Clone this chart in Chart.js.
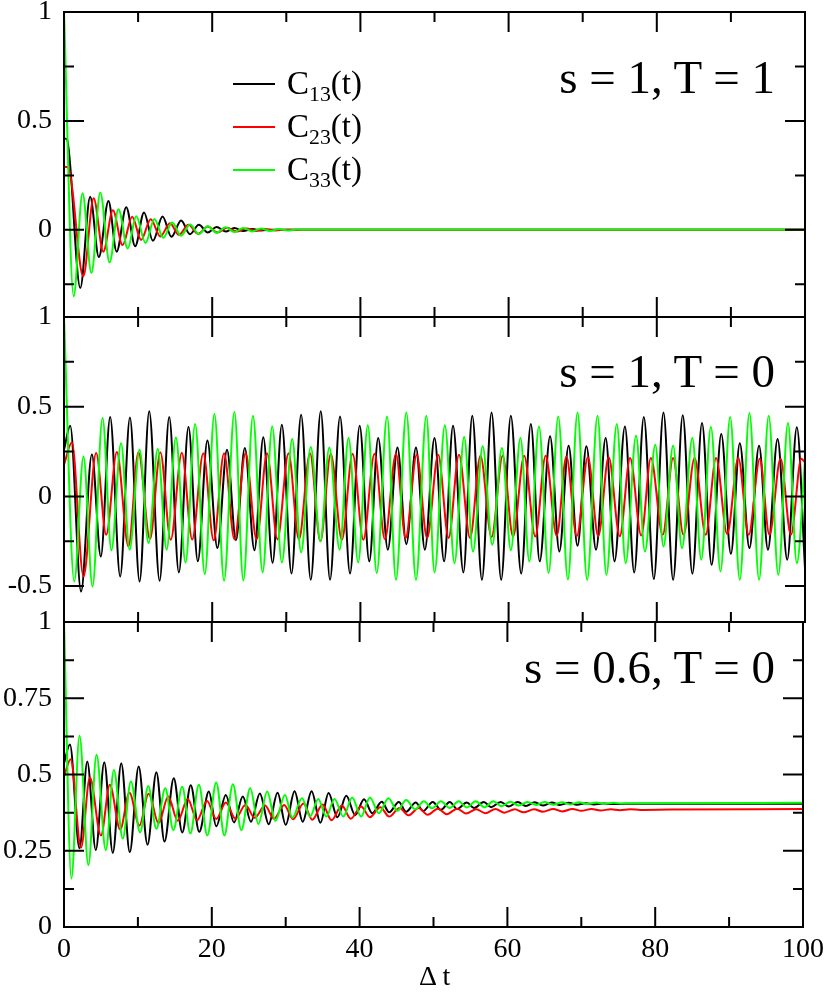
<!DOCTYPE html>
<html><head><meta charset="utf-8">
<script src="https://cdn.jsdelivr.net/npm/chart.js@4.4.1/dist/chart.umd.min.js"></script>
<style>
html,body{margin:0;padding:0;background:#fff;}
#wrap{position:relative;width:830px;height:993px;overflow:hidden;font-family:'Liberation Serif','Times New Roman',serif;color:#000;background:#fff;}
.pc{position:absolute;left:0;}
.ann{position:absolute;font-size:47px;line-height:1;white-space:nowrap;right:55px;}
.leg{position:absolute;left:287px;font-size:33px;line-height:1;white-space:nowrap;}
.leg sub{font-size:0.66em;vertical-align:-0.3em;line-height:0;}
.lline{position:absolute;height:2px;width:42px;left:233px;}
.xt{position:absolute;font-size:28px;line-height:1;white-space:nowrap;}
</style></head>
<body><div id="wrap">
<canvas id="c1" class="pc" style="top:-18px" width="830" height="365"></canvas>
<canvas id="c2" class="pc" style="top:287px" width="830" height="365"></canvas>
<canvas id="c3" class="pc" style="top:592px" width="830" height="401"></canvas>
<div class="lline" style="top:83px;background:#000"></div>
<div class="lline" style="top:126px;background:#ff0000"></div>
<div class="lline" style="top:169px;background:#00ff00"></div>
<div class="leg" style="top:67px">C<sub>13</sub>(t)</div>
<div class="leg" style="top:110px">C<sub>23</sub>(t)</div>
<div class="leg" style="top:153px">C<sub>33</sub>(t)</div>
<div class="ann" style="top:54px">s = 1, T = 1</div>
<div class="ann" style="top:348px">s = 1, T = 0</div>
<div class="ann" style="top:644px">s = 0.6, T = 0</div>
<div class="xt" style="left:419px;top:962px">&Delta; t</div>
</div>
<script>
// ---------- tick values ----------
const xMajorTicks = [0, 20, 40, 60, 80, 100];
const xMinorTicks = [10, 30, 50, 70, 90];
const yTicks_s1T1 = [0, 0.5, 1];
const yMinor_s1T1 = [-0.25, 0.25, 0.75];
const yTicks_s1T0 = [-0.5, 0, 0.5, 1];
const yMinor_s1T0 = [-0.25, 0.25, 0.75];
const yTicks_s06T0 = [0, 0.25, 0.5, 0.75, 1];
const yMinor_s06T0 = [0.125, 0.375, 0.625, 0.875];
const seriesNames = ['C13(t)', 'C23(t)', 'C33(t)'];

// ---------- data: [Δt, value] read at the turning points ----------
// panel 1: s = 1, T = 1
const c13_s1T1 = [[0,0.42],[0.4,0.415],[2.2,-0.267],[3.53,0.152],[4.7,-0.125],[6.0,0.133],[7.1,-0.1],[8.4,0.104],[9.6,-0.075],[10.8,0.08],[12.0,-0.05],[13.3,0.061],[14.5,-0.032],[15.8,0.043],[17.0,-0.02],[18.2,0.023],[19.4,-0.012],[20.6,0.013],[21.8,-0.008],[23.0,0.008],[24.2,-0.005],[25.4,0.004],[26.6,-0.003],[28.0,0.001],[100,0]];
const c23_s1T1 = [[0,0.29],[0.6,0.285],[2.6,-0.213],[4.0,0.145],[5.3,-0.1],[6.6,0.09],[7.9,-0.07],[9.2,0.06],[10.4,-0.046],[11.7,0.049],[13.0,-0.03],[14.3,0.03],[15.5,-0.023],[16.8,0.023],[18.1,-0.018],[19.4,0.015],[20.7,-0.012],[22.0,0.01],[23.3,-0.008],[24.6,0.006],[25.9,-0.005],[27.2,0.004],[28.5,-0.003],[30.0,0.001],[100,0]];
const c33_s1T1 = [[0,1.0],[1.3,-0.305],[2.5,0.168],[3.7,-0.198],[4.9,0.172],[6.15,-0.15],[7.35,0.095],[8.6,-0.085],[9.75,0.062],[11.0,-0.06],[12.2,0.05],[13.4,-0.036],[14.6,0.034],[15.8,-0.027],[17.0,0.025],[18.2,-0.02],[19.4,0.017],[20.6,-0.014],[21.8,0.012],[23.0,-0.01],[24.2,0.009],[25.4,-0.007],[26.6,0.006],[27.8,-0.005],[29.0,0.004],[30.2,-0.003],[31.4,0.002],[33.0,0],[100,0]];

// panel 2: s = 1, T = 0
const c13_s1T0 = [[0,0.26],[0.84,0.394],[2.3,-0.53],[3.76,0.233],[4.97,-0.335],[6.23,0.443],[7.58,-0.446],[8.9,0.44],[10.2,-0.474],[11.5,0.474],[12.9,-0.47],[14.2,0.443],[15.5,-0.424],[16.8,0.387],[18.06,-0.362],[19.35,0.312],[20.7,-0.288],[22.0,0.26],[23.2,-0.245],[24.4,0.27],[25.7,-0.3],[26.9,0.33],[28.15,-0.37],[29.4,0.40],[30.7,-0.43],[32.0,0.455],[33.3,-0.465],[34.65,0.474],[35.9,-0.465],[37.25,0.446],[38.6,-0.43],[39.9,0.394],[41.2,-0.362],[42.4,0.325],[43.7,-0.297],[45.0,0.273],[46.2,-0.266],[47.5,0.273],[48.7,-0.297],[50.0,0.325],[51.3,-0.362],[52.5,0.394],[53.9,-0.424],[55.1,0.45],[56.4,-0.465],[57.7,0.468],[59.0,-0.465],[60.3,0.45],[61.7,-0.43],[63.0,0.403],[64.2,-0.362],[65.6,0.335],[66.85,-0.307],[68.1,0.283],[69.3,-0.275],[70.5,0.279],[71.8,-0.297],[73.1,0.325],[74.3,-0.362],[75.7,0.39],[76.95,-0.424],[78.25,0.442],[79.6,-0.461],[80.9,0.468],[82.2,-0.465],[83.5,0.452],[84.8,-0.431],[86.1,0.409],[87.4,-0.381],[88.7,0.348],[90.0,-0.32],[91.2,0.297],[92.5,-0.288],[93.8,0.283],[95.0,-0.297],[96.3,0.32],[97.6,-0.353],[98.9,0.385],[100,-0.40]];
const c23_s1T0 = [[0,0.177],[1.06,0.30],[2.63,-0.446],[4.34,0.242],[5.7,-0.214],[7.13,0.247],[8.7,-0.279],[10.05,0.246],[11.6,-0.238],[13.0,0.246],[14.4,-0.242],[15.9,0.244],[17.3,-0.24],[18.8,0.24],[20.2,-0.245],[21.6,0.24],[23.0,-0.24],[24.5,0.24],[26.0,-0.24],[27.4,0.24],[28.8,-0.24],[30.3,0.24],[31.7,-0.24],[33.2,0.24],[34.6,-0.25],[36.0,0.238],[37.5,-0.242],[38.95,0.238],[40.4,-0.242],[41.9,0.238],[43.3,-0.238],[44.8,0.238],[46.1,-0.232],[47.6,0.232],[49.0,-0.232],[50.5,0.232],[51.9,-0.232],[53.3,0.232],[54.8,-0.232],[56.2,0.227],[57.7,-0.227],[59.2,0.227],[60.6,-0.223],[62.1,0.227],[63.6,-0.223],[65.0,0.227],[66.5,-0.22],[67.8,0.222],[69.2,-0.222],[70.7,0.218],[72.1,-0.222],[73.5,0.218],[75.0,-0.222],[76.4,0.214],[77.9,-0.218],[79.2,0.214],[80.8,-0.214],[82.2,0.214],[83.6,-0.214],[85.1,0.214],[86.6,-0.214],[88.0,0.214],[89.5,-0.21],[91.0,0.214],[92.4,-0.214],[93.9,0.21],[95.2,-0.214],[96.7,0.21],[98.1,-0.214],[99.5,0.21],[100,0.19]];
const c33_s1T0 = [[0,1.0],[1.38,-0.474],[2.63,0.223],[3.85,-0.502],[5.2,0.437],[6.4,-0.3],[7.7,0.297],[8.85,-0.297],[10.2,0.26],[11.4,-0.26],[12.65,0.264],[13.85,-0.297],[15.1,0.329],[16.4,-0.368],[17.7,0.403],[19.0,-0.433],[20.3,0.459],[21.6,-0.47],[23.0,0.47],[24.2,-0.468],[25.5,0.45],[26.8,-0.424],[28.1,0.39],[29.4,-0.368],[30.8,0.32],[32.0,-0.312],[33.3,0.275],[34.6,-0.251],[35.8,0.273],[37.2,-0.297],[38.4,0.325],[39.7,-0.368],[41.0,0.396],[42.2,-0.427],[43.6,0.446],[44.8,-0.465],[46.2,0.468],[47.5,-0.465],[48.9,0.45],[50.0,-0.424],[51.4,0.396],[52.7,-0.372],[54.0,0.331],[55.2,-0.307],[56.5,0.279],[57.8,-0.27],[59.1,0.27],[60.3,-0.30],[61.6,0.325],[62.8,-0.362],[64.1,0.39],[65.4,-0.427],[66.7,0.446],[68.0,-0.463],[69.3,0.468],[70.6,-0.465],[72.0,0.45],[73.2,-0.437],[74.6,0.403],[75.8,-0.372],[77.2,0.338],[78.4,-0.307],[79.8,0.288],[80.9,-0.279],[82.2,0.283],[83.4,-0.288],[84.8,0.325],[86.0,-0.353],[87.3,0.387],[88.6,-0.418],[89.9,0.442],[91.2,-0.465],[92.5,0.465],[93.8,-0.465],[95.1,0.45],[96.4,-0.437],[97.7,0.409],[98.9,-0.372],[100,0.2]];

// panel 3: s = 0.6, T = 0
const c13_s06T0 = [[0,0.537],[0.8,0.598],[2.1,0.258],[3.15,0.543],[4.3,0.252],[5.45,0.54],[6.6,0.243],[7.75,0.537],[8.9,0.245],[10.1,0.526],[11.3,0.27],[12.5,0.507],[13.6,0.28],[14.85,0.488],[16.0,0.31],[17.15,0.465],[18.3,0.312],[19.6,0.444],[20.6,0.33],[21.9,0.433],[23.0,0.343],[24.2,0.428],[25.3,0.345],[26.5,0.438],[27.7,0.337],[28.9,0.44],[30.0,0.335],[31.2,0.445],[32.3,0.345],[33.5,0.445],[34.7,0.342],[35.8,0.439],[37.0,0.36],[38.2,0.43],[39.4,0.367],[40.6,0.419],[41.7,0.373],[43.0,0.411],[44.0,0.376],[45.3,0.41],[46.3,0.378],[47.6,0.408],[48.6,0.38],[49.9,0.41],[51.0,0.384],[52.2,0.41],[53.2,0.387],[54.5,0.408],[55.5,0.39],[56.8,0.41],[57.8,0.393],[59.1,0.41],[60.2,0.395],[61.4,0.41],[62.5,0.397],[63.7,0.409],[64.8,0.398],[66.0,0.408],[67.1,0.4],[68.3,0.407],[69.4,0.401],[70.6,0.406],[71.7,0.402],[73.0,0.405],[74.1,0.403],[76.0,0.404],[100,0.404]];
const c23_s06T0 = [[0,0.493],[0.9,0.55],[2.3,0.26],[3.5,0.49],[5.0,0.30],[6.2,0.466],[7.6,0.32],[8.85,0.44],[10.2,0.333],[11.45,0.437],[12.8,0.34],[14.1,0.428],[15.4,0.348],[16.75,0.42],[18.0,0.35],[19.35,0.413],[20.6,0.354],[21.9,0.408],[23.2,0.355],[24.55,0.40],[25.8,0.358],[27.2,0.398],[28.4,0.355],[29.8,0.40],[31.0,0.353],[32.4,0.405],[33.6,0.352],[35.0,0.402],[36.2,0.35],[37.6,0.398],[38.8,0.355],[40.2,0.395],[41.4,0.36],[42.8,0.393],[44.0,0.362],[45.4,0.39],[46.6,0.366],[48.0,0.39],[49.2,0.368],[50.6,0.388],[51.8,0.37],[53.2,0.388],[54.4,0.372],[55.8,0.386],[57.0,0.373],[58.4,0.387],[59.6,0.375],[61.0,0.386],[62.2,0.376],[63.6,0.386],[64.8,0.378],[66.2,0.387],[67.4,0.379],[68.8,0.387],[70.0,0.381],[71.4,0.387],[72.6,0.382],[74.0,0.386],[75.2,0.383],[76.6,0.386],[78.0,0.384],[82.0,0.385],[100,0.387]];
const c33_s06T0 = [[0,1.0],[1.0,0.159],[2.1,0.627],[3.3,0.203],[4.4,0.565],[5.65,0.252],[6.75,0.515],[7.95,0.29],[9.05,0.477],[10.3,0.31],[11.4,0.462],[12.5,0.322],[13.7,0.455],[14.8,0.318],[16.0,0.46],[17.1,0.307],[18.25,0.466],[19.4,0.30],[20.6,0.474],[21.7,0.30],[22.85,0.468],[24.0,0.318],[25.2,0.455],[26.3,0.338],[27.5,0.444],[28.6,0.348],[29.9,0.433],[30.9,0.358],[32.2,0.422],[33.3,0.362],[34.4,0.42],[35.5,0.362],[36.6,0.42],[37.8,0.362],[39.0,0.425],[40.2,0.362],[41.4,0.425],[42.6,0.373],[43.9,0.422],[45.1,0.381],[46.3,0.416],[47.5,0.386],[48.7,0.412],[49.8,0.389],[51.0,0.412],[52.2,0.39],[53.4,0.412],[54.5,0.392],[55.7,0.412],[56.9,0.393],[58.1,0.412],[59.2,0.396],[60.4,0.411],[61.5,0.398],[62.7,0.41],[63.9,0.4],[65.0,0.41],[66.2,0.401],[67.4,0.409],[68.5,0.402],[69.7,0.409],[70.9,0.403],[72.0,0.408],[73.2,0.404],[74.4,0.407],[75.5,0.405],[77.0,0.406],[100,0.407]];

// ---------- drawing ----------
const FONT = "'Liberation Serif','Times New Roman',serif";
const COLORS = ['#000000', '#ff0000', '#00ff00'];

const framePlugin = {
  id: 'frame',
  afterDatasetsDraw(chart, args, opts) {
    const {ctx, chartArea: a, scales: {x, y}} = chart;
    ctx.save();
    ctx.strokeStyle = '#000';
    ctx.lineWidth = 2;
    ctx.lineCap = 'butt';
    ctx.beginPath();
    const tick = (x0, y0, x1, y1) => { ctx.moveTo(x0, y0); ctx.lineTo(x1, y1); };
    opts.xMajor.forEach(v => { const p = x.getPixelForValue(v); tick(p, a.bottom, p, a.bottom - 20); tick(p, a.top, p, a.top + 20); });
    opts.xMinor.forEach(v => { const p = x.getPixelForValue(v); tick(p, a.bottom, p, a.bottom - 10); tick(p, a.top, p, a.top + 10); });
    opts.yMajor.forEach(v => { const p = y.getPixelForValue(v); tick(a.left, p, a.left + 20, p); tick(a.right, p, a.right - 20, p); });
    opts.yMinor.forEach(v => { const p = y.getPixelForValue(v); tick(a.left, p, a.left + 10, p); tick(a.right, p, a.right - 10, p); });
    ctx.stroke();
    ctx.strokeRect(a.left, a.top, a.right - a.left, a.bottom - a.top);
    ctx.restore();
  }
};

function makePanel(id, series, yMin, yMax, yTicks, yMinor, showX) {
  const toXY = arr => arr.map(p => ({x: p[0], y: p[1]}));
  // green drawn on top: dataset 0 is painted last
  const datasets = [2, 1, 0].map(i => ({
    label: seriesNames[i],
    data: toXY(series[i]),
    borderColor: COLORS[i],
    borderWidth: 2,
    pointRadius: 0,
    fill: false,
    cubicInterpolationMode: 'monotone'
  }));
  const xScale = {
    type: 'linear', min: 0, max: 100, display: showX,
    grid: {display: false, drawTicks: false}, border: {display: false},
    afterBuildTicks: s => { s.ticks = xMajorTicks.map(v => ({value: v})); },
    ticks: {font: {family: FONT, size: 28}, color: '#000', padding: 6, maxRotation: 0, autoSkip: false,
            callback: v => String(v)}
  };
  if (showX) xScale.afterFit = s => { s.height = 66; };
  return new Chart(document.getElementById(id), {
    type: 'line',
    data: {datasets},
    plugins: [framePlugin],
    options: {
      responsive: false,
      animation: false,
      events: [],
      layout: {padding: {left: 0, right: 25, top: 30, bottom: showX ? 0 : 30}},
      plugins: {
        legend: {display: false},
        tooltip: {enabled: false},
        frame: {xMajor: xMajorTicks, xMinor: xMinorTicks, yMajor: yTicks, yMinor: yMinor}
      },
      scales: {
        x: xScale,
        y: {
          type: 'linear', min: yMin, max: yMax,
          grid: {display: false, drawTicks: false}, border: {display: false},
          afterBuildTicks: s => { s.ticks = yTicks.map(v => ({value: v})); },
          afterFit: s => { s.width = 64; },
          ticks: {font: {family: FONT, size: 28}, color: '#000', padding: 12, callback: v => String(v)}
        }
      }
    }
  });
}

makePanel('c1', [c13_s1T1, c23_s1T1, c33_s1T1], -0.4, 1, yTicks_s1T1, yMinor_s1T1, false);
makePanel('c2', [c13_s1T0, c23_s1T0, c33_s1T0], -0.7, 1, yTicks_s1T0, yMinor_s1T0, false);
makePanel('c3', [c13_s06T0, c23_s06T0, c33_s06T0], 0, 1, yTicks_s06T0, yMinor_s06T0, true);
</script>
</body></html>
